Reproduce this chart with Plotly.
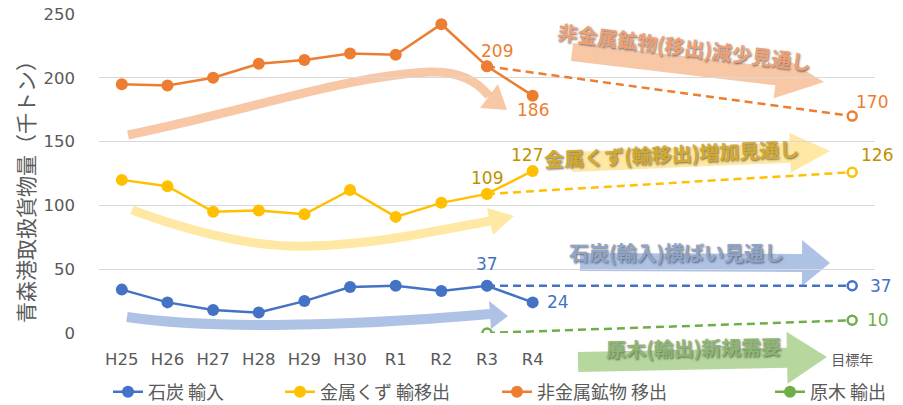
import math
import plotly.graph_objects as go

# ---------------- data ----------------
categories = ["H25", "H26", "H27", "H28", "H29", "H30", "R1", "R2", "R3", "R4"]
target_label = "目標年"
n_blank_years = 6  # empty category slots between R4 and the target year

coal_import = [34, 24, 18, 16, 25, 36, 37, 33, 37, 24]
scrap_export = [120, 115, 95, 96, 93, 112, 91, 102, 109, 127]
mineral_export = [195, 194, 200, 211, 214, 219, 218, 242, 209, 186]
timber_export = [None] * len(categories)

# projections: from R3 to target year
coal_proj = [37, 37]
scrap_proj = [109, 126]
mineral_proj = [209, 170]
timber_proj = [0, 10]

series_names = ["石炭 輸入", "金属くず 輸移出", "非金属鉱物 移出", "原木 輸出"]
y_ticks = [0, 50, 100, 150, 200, 250]
y_title = "青森港取扱貨物量（千トン）"

arrow_texts = ["非金属鉱物(移出)減少見通し", "金属くず(輸移出)増加見通し",
               "石炭(輸入)横ばい見通し", "原木(輸出)新規需要"]

# ---------------- layout constants ----------------
W, H = 903, 405
ML, MR, MT, MB = 99, 28, 14, 72
PW, PH = W - ML - MR, H - MT - MB

BLUE, YELLOW, ORANGE, GREEN = "#4472C4", "#FFC000", "#ED7D31", "#70AD47"
LBL = {"blue": "#4472C4", "yellow": "#BF9000", "orange": "#ED7D31", "green": "#70AD47"}
GRAY = "#595959"
NUM_FONT = "DejaVu Sans, Noto Sans CJK JP"
JP_FONT = "Noto Sans CJK JP"

x_idx = list(range(len(categories)))
r3 = categories.index("R3")
target_x = len(categories) - 1 + n_blank_years + 1
proj_x = [r3, target_x]


def px2p(px, py):
    return (px - ML) / PW, (MT + PH - py) / PH


def pt(px, py):
    x, y = px2p(px, py)
    return f"{x:.5f},{y:.5f}"


fig = go.Figure()

# dashed projections (drawn first)
for proj, col in [(coal_proj, BLUE), (scrap_proj, YELLOW), (mineral_proj, ORANGE), (timber_proj, GREEN)]:
    fig.add_trace(go.Scatter(
        x=proj_x, y=proj, mode="lines+markers", showlegend=False, hoverinfo="skip",
        line=dict(color=col, width=2.5, dash="8px,5px"),
        marker=dict(symbol="circle", size=9, color="white", line=dict(color=col, width=2.5)),
    ))

# actual series
legend_ids = ["legend", "legend2", "legend3", "legend4"]
for vals, col, name, lg in [(coal_import, BLUE, series_names[0], legend_ids[0]),
                            (scrap_export, YELLOW, series_names[1], legend_ids[1]),
                            (mineral_export, ORANGE, series_names[2], legend_ids[2]),
                            (timber_export, GREEN, series_names[3], legend_ids[3])]:
    fig.add_trace(go.Scatter(
        x=x_idx, y=vals, mode="lines+markers", name=name, legend=lg,
        line=dict(color=col, width=2.5),
        marker=dict(symbol="circle", size=12, color=col),
    ))

# ---------------- data labels ----------------
labels = [
    (r3, mineral_export[r3], LBL["orange"], 10, 15),
    (len(categories) - 1, mineral_export[-1], LBL["orange"], 0, -14),
    (target_x, mineral_proj[1], LBL["orange"], 20, 14),
    (r3, scrap_export[r3], LBL["yellow"], 0, 16),
    (len(categories) - 1, scrap_export[-1], LBL["yellow"], -6, 16),
    (target_x, scrap_proj[1], LBL["yellow"], 25, 17),
    (r3, coal_import[r3], LBL["blue"], 0, 22),
    (len(categories) - 1, coal_import[-1], LBL["blue"], 25, 0),
    (target_x, coal_proj[1], LBL["blue"], 29, 0),
    (target_x, timber_proj[1], LBL["green"], 26, 0),
]
annotations = []
for x, y, c, dx, dy in labels:
    annotations.append(dict(x=x, y=y, xref="x", yref="y", text=str(y), showarrow=False,
                            xshift=dx, yshift=dy, font=dict(family=NUM_FONT, size=17, color=c)))

# y-axis title
tx, ty = px2p(25, 187)
annotations.append(dict(x=tx, y=ty, xref="paper", yref="paper", text=y_title, showarrow=False,
                        xanchor="center", yanchor="middle",
                        textangle=-90, font=dict(family=JP_FONT, size=21, color=GRAY)))

# ---------------- decorative arrows ----------------
shapes = []


def curve(points, color, width):
    d = "M " + pt(*points[0])
    i = 1
    while i < len(points):
        d += " C " + " ".join(pt(*p) for p in points[i:i + 3])
        i += 3
    shapes.append(dict(type="path", path=d, xref="paper", yref="paper", layer="below",
                       line=dict(color=color, width=width), fillcolor="rgba(0,0,0,0)"))


def tri(a, b, c, color):
    d = f"M {pt(*a)} L {pt(*b)} L {pt(*c)} Z"
    shapes.append(dict(type="path", path=d, xref="paper", yref="paper", layer="below",
                       line=dict(width=0), fillcolor=color))


def block_arrow(s, t, w, hl, hw, color):
    dx, dy = t[0] - s[0], t[1] - s[1]
    L = math.hypot(dx, dy)
    ux, uy = dx / L, dy / L
    nx, ny = -uy, ux
    bx, by = t[0] - ux * hl, t[1] - uy * hl
    pts = [(s[0] + nx * w, s[1] + ny * w), (bx + nx * w, by + ny * w), (bx + nx * hw, by + ny * hw),
           t, (bx - nx * hw, by - ny * hw), (bx - nx * w, by - ny * w), (s[0] - nx * w, s[1] - ny * w)]
    d = "M " + " L ".join(pt(*p) for p in pts) + " Z"
    shapes.append(dict(type="path", path=d, xref="paper", yref="paper", layer="below",
                       line=dict(width=0), fillcolor=color))


OR_C = "rgba(244,177,131,0.72)"
YE_C = "rgba(255,217,102,0.6)"
BL_C = "rgba(143,170,220,0.72)"
GR_C = "rgba(169,209,142,0.85)"

curve([(128, 135), (250, 110), (350, 75), (430, 72), (460, 71), (478, 82), (489, 96)], OR_C, 9)
tri((507, 110), (480, 108), (498, 84), OR_C)
curve([(132, 210), (200, 235), (260, 248), (310, 246), (380, 244), (440, 230), (490, 221)], YE_C, 9)
tri((514, 216), (493, 235), (487, 208), YE_C)
curve([(127, 317), (200, 328), (330, 328), (490, 314)], BL_C, 10)
tri((508, 316), (489, 301), (491, 329), BL_C)

block_arrow((572, 52), (824, 82), 9, 48, 22, OR_C)
block_arrow((572, 162), (830, 151), 10, 40, 20, YE_C)
block_arrow((580, 262), (830, 263), 9, 28, 23, BL_C)
block_arrow((578, 362), (827, 357), 10, 40, 26, GR_C)

for text, (cx, cy), ang, col in [
    (arrow_texts[0], (684, 47), 7, "#EFA175"),
    (arrow_texts[1], (671, 153), -2.5, "#D2AA30"),
    (arrow_texts[2], (676, 252), 0, "#8FA4C9"),
    (arrow_texts[3], (693, 347), -1, "#8CB770"),
]:
    ax_, ay_ = px2p(cx, cy)
    annotations.append(dict(x=ax_, y=ay_, xref="paper", yref="paper", text=text, showarrow=False,
                            xanchor="center", yanchor="middle", textangle=ang,
                            font=dict(family=JP_FONT, size=20, color=col, weight=600,
                                      shadow="1px 1px 2px rgba(70,70,70,0.75)")))

# ---------------- layout ----------------
legend_text_start = [152, 324, 541, 814]
legend_cfg = {}
for lg, tsx in zip(legend_ids, legend_text_start):
    legend_cfg[lg] = dict(x=(tsx - 44) / W, xref="container", xanchor="left",
                          y=1 - 392 / H, yref="container", yanchor="middle",
                          orientation="h", bgcolor="rgba(0,0,0,0)",
                          font=dict(family=JP_FONT, size=18, color=GRAY))

fig.update_layout(
    width=W, height=H, autosize=False,
    margin=dict(l=ML, r=MR, t=MT, b=MB, pad=0, autoexpand=False),
    paper_bgcolor="white", plot_bgcolor="white",
    annotations=annotations, shapes=shapes,
    xaxis=dict(range=[-0.5, target_x + 0.5], tickmode="array",
               tickvals=x_idx + [target_x],
               ticktext=categories + [f"<span style='font-size:14px'>{target_label}</span>"],
               showgrid=False, zeroline=False, showline=False, ticks="",
               ticklabelstandoff=14,
               tickfont=dict(family=NUM_FONT, size=16.5, color=GRAY)),
    yaxis=dict(range=[0, 250], tickmode="array", tickvals=y_ticks,
               showgrid=True, gridcolor="#D9D9D9", gridwidth=1.3,
               zeroline=False, showline=False, ticks="", ticklabelstandoff=23,
               tickfont=dict(family=NUM_FONT, size=16.5, color=GRAY)),
    **legend_cfg,
)

fig.write_html("out.html", config={"displayModeBar": False},
               post_script="document.body.style.margin='0';document.body.style.padding='0';"
                           "document.body.style.overflow='hidden';")
